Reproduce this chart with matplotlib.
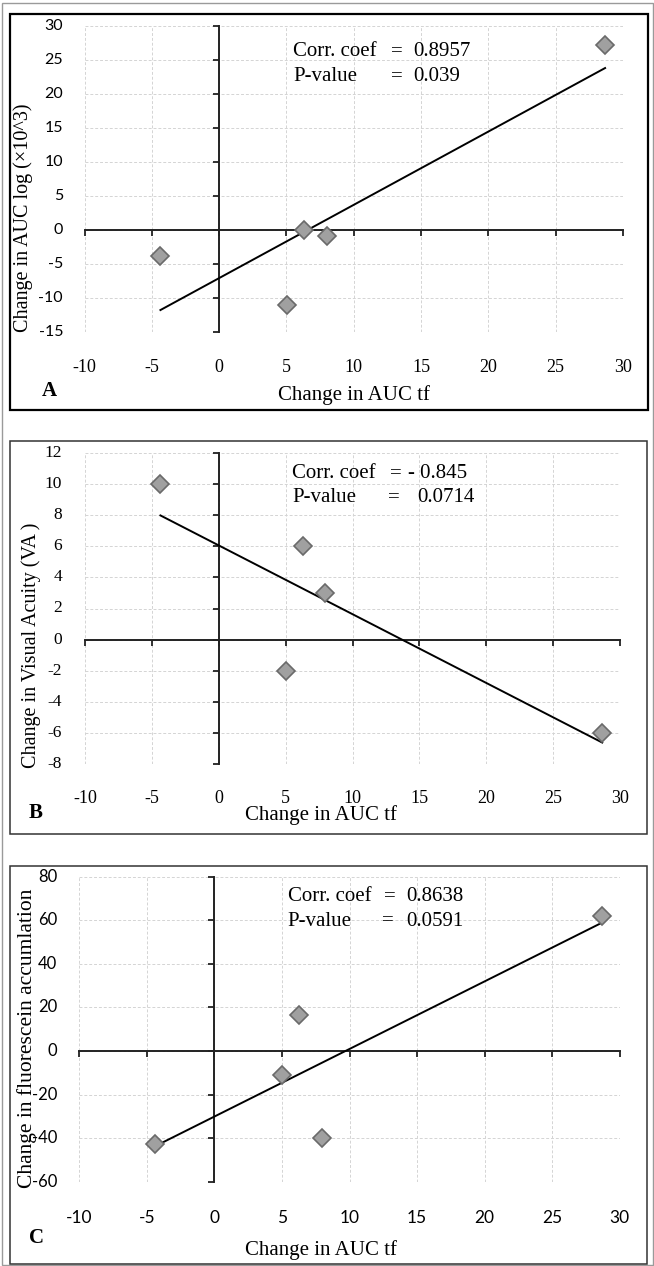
import numpy as np
import matplotlib
matplotlib.use("Agg")
import matplotlib.pyplot as plt
from matplotlib.patches import Rectangle
from matplotlib.transforms import ScaledTranslation

# ---------------- data ----------------
x_auc_tf = [-4.36, 5.04, 6.28, 7.98, 28.67]
y_auc_log = [-3.9, -11.0, 0.0, -0.9, 27.2]
y_va = [10, -2, 6, 3, -6]
y_fluor = [-42.9, -10.8, 16.3, -39.8, 62.0]

xticks = [-10, -5, 0, 5, 10, 15, 20, 25, 30]
yticks_a = [-15, -10, -5, 0, 5, 10, 15, 20, 25, 30]
yticks_b = [-8, -6, -4, -2, 0, 2, 4, 6, 8, 10, 12]
yticks_c = [-60, -40, -20, 0, 20, 40, 60, 80]

stats_a = ("Corr. coef", "0.8957", "P-value", "0.039")
stats_b = ("Corr. coef", "- 0.845", "P-value", "0.0714")
stats_c = ("Corr. coef", "0.8638", "P-value", "0.0591")

W, H = 654, 1266
DPI = 100
fig = plt.figure(figsize=(W / DPI, H / DPI), dpi=DPI)

SERIF = "Liberation Serif"
SANS = "Lato"


def fx(px):
    return px / W


def fy(py):
    return 1 - py / H


def make_panel(rect, ydata, yticks, xtick_font, ytick_font, xt_size, yt_size,
               xt_off, yt_off):
    left, top, right, bottom = rect
    ax = fig.add_axes([fx(left), fy(bottom), (right - left) / W, (bottom - top) / H])
    ax.set_xlim(xticks[0], xticks[-1])
    ax.set_ylim(yticks[0], yticks[-1])
    ax.set_xticks(xticks)
    ax.set_yticks(yticks)
    ax.grid(True, color="#d4d4d4", linestyle=(0, (3, 2)), linewidth=0.7)
    ax.set_axisbelow(True)
    for s in ("top", "right"):
        ax.spines[s].set_visible(False)
    ax.spines["left"].set_position(("data", 0))
    ax.spines["bottom"].set_position(("data", 0))
    for s in ("left", "bottom"):
        ax.spines[s].set_linewidth(1.4)
        ax.spines[s].set_color("#222222")
    ax.tick_params(axis="both", direction="out", length=4, width=1.3,
                   color="#222222", labelbottom=False, labelleft=False)
    # tick labels at the low side of the plot area
    tx = ax.get_xaxis_transform() + ScaledTranslation(0, -xt_off / DPI, fig.dpi_scale_trans)
    for t in xticks:
        ax.text(t, 0, f"{t}", transform=tx, ha="center", va="center",
                fontsize=xt_size, family=xtick_font, clip_on=False)
    ty = ax.get_yaxis_transform() + ScaledTranslation(-yt_off / DPI, 0, fig.dpi_scale_trans)
    for t in yticks:
        ax.text(0, t, f"{t}", transform=ty, ha="right", va="center",
                fontsize=yt_size, family=ytick_font, clip_on=False)
    # trend line
    k, b = np.polyfit(x_auc_tf, ydata, 1)
    xs = np.array([min(x_auc_tf), max(x_auc_tf)])
    ax.plot(xs, k * xs + b, color="black", linewidth=1.4, zorder=3)
    ax.plot(x_auc_tf, ydata, linestyle="none", marker="D", markersize=9,
            markerfacecolor="#a0a0a0", markeredgecolor="#6a6a6a",
            markeredgewidth=1.2, zorder=4, clip_on=False)
    return ax


def stats_text(stats, x0, y1, y2, eq1, eq2, v1, v2, size=15):
    lab1, val1, lab2, val2 = stats
    fig.text(fx(x0), fy(y1), lab1, ha="left", va="center", fontsize=size, family=SERIF)
    fig.text(fx(eq1), fy(y1), "=", ha="center", va="center", fontsize=size, family=SERIF)
    fig.text(fx(v1), fy(y1), val1, ha="left", va="center", fontsize=size, family=SERIF)
    fig.text(fx(x0), fy(y2), lab2, ha="left", va="center", fontsize=size, family=SERIF)
    fig.text(fx(eq2), fy(y2), "=", ha="center", va="center", fontsize=size, family=SERIF)
    fig.text(fx(v2), fy(y2), val2, ha="left", va="center", fontsize=size, family=SERIF)


# outer frame
fig.add_artist(Rectangle((fx(1.5), fy(1265)), (651) / W, (1262) / H,
                         transform=fig.transFigure, fill=False,
                         edgecolor="#9a9a9a", linewidth=1.0))
# panel boxes
fig.add_artist(Rectangle((fx(9.5), fy(410)), (648.3 - 9.5) / W, (410 - 14) / H,
                         transform=fig.transFigure, fill=False,
                         edgecolor="black", linewidth=1.6))
fig.add_artist(Rectangle((fx(10), fy(834)), (646.7 - 10) / W, (834 - 441) / H,
                         transform=fig.transFigure, fill=False,
                         edgecolor="#333333", linewidth=1.1))
fig.add_artist(Rectangle((fx(10), fy(1264)), (646.7 - 10) / W, (1264 - 866) / H,
                         transform=fig.transFigure, fill=False,
                         edgecolor="#333333", linewidth=1.1))

# Panel A
make_panel((84.5, 25.7, 623, 331.7), y_auc_log, yticks_a, SERIF, SANS, 13, 11.5, 36, 21.5)
fig.text(fx(354), fy(395), "Change in AUC tf", ha="center", va="center", fontsize=15, family=SERIF)
fig.text(fx(23), fy(218), "Change in AUC log (×10^3)", ha="center", va="center",
         rotation=90, fontsize=14.5, family=SERIF)
fig.text(fx(49), fy(391), "A", ha="center", va="center", fontsize=15, family=SERIF, weight="bold")
stats_text(stats_a, 293, 51.7, 76.7, 397, 397, 413, 413)

# Panel B
make_panel((85, 452.7, 620, 764.3), y_va, yticks_b, SERIF, SERIF, 13, 12.5, 34, 23)
fig.text(fx(321), fy(815), "Change in AUC tf", ha="center", va="center", fontsize=15, family=SERIF)
fig.text(fx(31), fy(645), "Change in Visual Acuity (VA )", ha="center", va="center",
         rotation=90, fontsize=14.5, family=SERIF)
fig.text(fx(36), fy(813), "B", ha="center", va="center", fontsize=15, family=SERIF, weight="bold")
stats_text(stats_b, 292, 473.3, 497.3, 396, 394, 408, 417)

# Panel C
make_panel((79.3, 876.7, 619.7, 1181.7), y_fluor, yticks_c, SANS, SANS, 12.5, 12, 36, 22)
fig.text(fx(321), fy(1250), "Change in AUC tf", ha="center", va="center", fontsize=15, family=SERIF)
fig.text(fx(27), fy(1038), "Change in fluorescein accumlation", ha="center", va="center",
         rotation=90, fontsize=15.5, family=SERIF)
fig.text(fx(37), fy(1238), "C", ha="center", va="center", fontsize=15, family=SERIF, weight="bold")
stats_text(stats_c, 287.5, 896.7, 921, 389.6, 387.5, 406, 406)

fig.savefig("out.png", dpi=DPI)
